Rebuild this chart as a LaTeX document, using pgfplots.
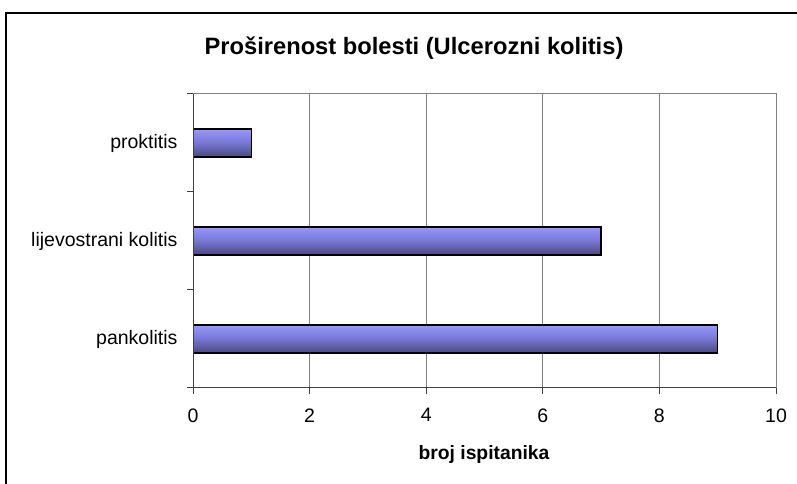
\documentclass[border=0pt]{standalone}
\usepackage{pgfplots}
\pgfplotsset{compat=1.18}
\usepackage{fontspec}
\setmainfont{Liberation Sans}
\definecolor{bartop}{RGB}{152,152,255}
\definecolor{barmid}{RGB}{118,118,210}
\definecolor{barbot}{RGB}{72,72,125}
\definecolor{gridgray}{RGB}{128,128,128}
\begin{document}
\begin{tikzpicture}[x=1bp,y=1bp]
\useasboundingbox (0,0) rectangle (797,484);
\draw[line width=1.2bp,black] (6,-20) -- (6,471) -- (820,471);
\node[anchor=base,font=\fontsize{23.7bp}{28bp}\selectfont\bfseries] at (414,429) {Proširenost bolesti (Ulcerozni kolitis)};
\node[anchor=base,font=\fontsize{19.3bp}{23bp}\selectfont\bfseries] at (484,24) {broj ispitanika};
\begin{axis}[
  at={(193bp,96bp)}, anchor=south west,
  width=583bp, height=294bp, scale only axis,
  xbar, bar width=28bp, bar shift=0pt,
  xmin=0, xmax=10, ymin=-0.5, ymax=2.5,
  xtick={0,2,4,6,8,10},
  ytick={-0.5,0.5,1.5,2.5},
  yticklabels={},
  extra y ticks={0,1,2},
  extra y tick labels={pankolitis, lijevostrani kolitis, proktitis},
  extra y tick style={major tick length=0pt, yticklabel style={xshift=-12bp}},
  xtick pos=bottom, ytick pos=left,
  tick align=outside,
  major tick length=6bp,
  every tick/.style={black!75, line width=1bp},
  xmajorgrids,
  major grid style={gridgray, line width=1bp},
  axis line style={gridgray, line width=1bp},
  tick label style={font=\fontsize{19.5bp}{23bp}\selectfont, black},
  /pgf/number format/assume math mode=true,
  xticklabel style={yshift=-11bp},
  barstyle/.style={draw=black, line width=1.3bp, top color=bartop, bottom color=barbot, middle color=barmid},
]
\addplot[barstyle] coordinates {(9,0)};
\addplot[barstyle] coordinates {(7,1)};
\addplot[barstyle] coordinates {(1,2)};
\draw[line width=1.6bp, black!75] (axis cs:0,2.5) -- (axis cs:0,-0.5) -- (axis cs:10,-0.5);
\end{axis}
\end{tikzpicture}
\end{document}
